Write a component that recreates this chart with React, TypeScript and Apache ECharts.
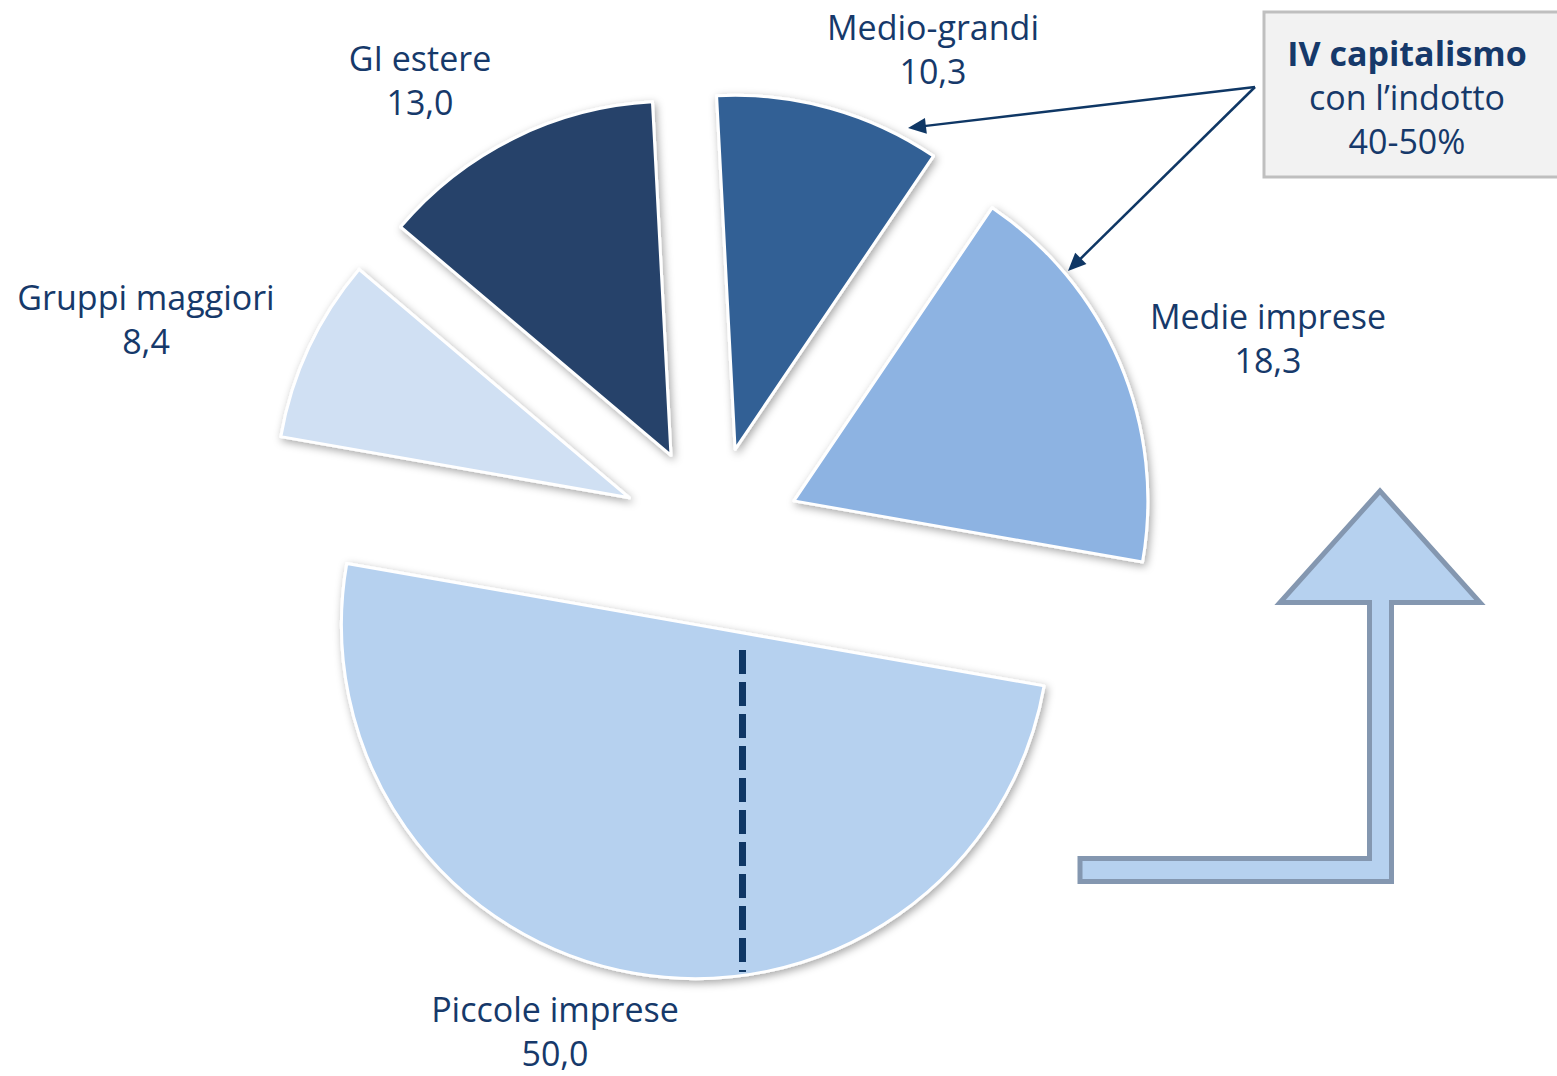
import React, { useEffect, useRef } from 'react';
import * as echarts from 'echarts';

// ---- data ----
const categories = ['Medio-grandi', 'Medie imprese', 'Piccole imprese', 'Gruppi maggiori', 'GI estere'];
const values = [10.3, 18.3, 50.0, 8.4, 13.0];
const sliceColors = ['#336195', '#8DB3E2', '#B6D1EF', '#D0E0F3', '#25436B'];
const calloutLines = ['IV capitalismo', 'con l\u2019indotto', '40-50%'];

// ---- layout ----
const W = 1557;
const H = 1076;
const CENTER: [number, number] = [711, 536];
const RADIUS = 354;
const EXPLODE = 90;
const START_ANGLE = 93;
const LABEL_POS: [number, number][] = [
  [933, 49],
  [1268, 338],
  [555, 1031],
  [146, 319],
  [420, 80],
];
const TEXT = '#16396A';
const NAVY = '#0F3765';
const FONT = "'Open Sans', 'DejaVu Sans', sans-serif";

const ARROW_FROM: [number, number] = [1255, 87];
const ARROW_TIPS: [number, number][] = [
  [908, 128],
  [1068, 271],
];

function arrowHead(from: [number, number], to: [number, number], len: number, half: number) {
  const dx = to[0] - from[0];
  const dy = to[1] - from[1];
  const L = Math.hypot(dx, dy);
  const ux = dx / L;
  const uy = dy / L;
  const bx = to[0] - ux * len;
  const by = to[1] - uy * len;
  return {
    base: [bx + ux * 2, by + uy * 2],
    points: [
      [to[0], to[1]],
      [bx - uy * half, by + ux * half],
      [bx + uy * half, by - ux * half],
    ],
  };
}

const fmt = (v: number) => v.toFixed(1).replace('.', ',');

export default function App() {
  const ref = useRef<HTMLDivElement>(null);

  useEffect(() => {
    if (!ref.current) return;
    const chart = echarts.init(ref.current, undefined, { renderer: 'svg' });

    const arrowEls: any[] = [];
    ARROW_TIPS.forEach((tip) => {
      const h = arrowHead(ARROW_FROM, tip, 18, 8);
      arrowEls.push({
        type: 'line',
        z: 100,
        shape: { x1: ARROW_FROM[0], y1: ARROW_FROM[1], x2: h.base[0], y2: h.base[1] },
        style: { stroke: NAVY, lineWidth: 2.5 },
      });
      arrowEls.push({
        type: 'polygon',
        z: 100,
        shape: { points: h.points },
        style: { fill: NAVY },
      });
    });

    const labelEls: any[] = categories.map((name, i) => ({
      type: 'text',
      z: 101,
      x: LABEL_POS[i][0],
      y: LABEL_POS[i][1],
      style: {
        text: `${name}\n${fmt(values[i])}`,
        align: 'center',
        verticalAlign: 'middle',
        fill: TEXT,
        fontFamily: FONT,
        fontSize: 34,
        lineHeight: 44,
      },
    }));

    const option: any = {
      animation: false,
      backgroundColor: '#ffffff',
      series: [
        {
          type: 'pie',
          center: CENTER,
          radius: RADIUS,
          startAngle: START_ANGLE,
          clockwise: true,
          selectedMode: 'multiple',
          selectedOffset: EXPLODE,
          avoidLabelOverlap: false,
          emphasis: { disabled: true },
          itemStyle: {
            borderColor: '#ffffff',
            borderWidth: 3,
            shadowBlur: 8,
            shadowColor: 'rgba(0,0,0,0.35)',
            shadowOffsetX: 2,
            shadowOffsetY: 3,
          },
          select: {
            itemStyle: {
              borderColor: '#ffffff',
              borderWidth: 3,
            },
          },
          label: { show: false },
          labelLine: { show: false },
          data: categories.map((name, i) => ({
            name,
            value: values[i],
            selected: true,
            itemStyle: { color: sliceColors[i] },
            select: { itemStyle: { color: sliceColors[i] } },
          })),
        },
      ],
      graphic: [
        // callout box
        {
          type: 'rect',
          z: 100,
          shape: { x: 1264, y: 12, width: 300, height: 165 },
          style: { fill: '#F2F2F2', stroke: '#BFBFBF', lineWidth: 3 },
        },
        {
          type: 'text',
          z: 101,
          x: 1407,
          y: 97,
          style: {
            text: `{b|${calloutLines[0]}}\n{n|${calloutLines[1]}}\n{n|${calloutLines[2]}}`,
            align: 'center',
            verticalAlign: 'middle',
            fill: TEXT,
            rich: {
              b: { fontFamily: FONT, fontSize: 34, fontWeight: 'bold', lineHeight: 44, fill: TEXT, color: TEXT },
              n: { fontFamily: FONT, fontSize: 34, lineHeight: 44, fill: TEXT, color: TEXT },
            },
          },
        },
        ...labelEls,
        ...arrowEls,
        // dashed line inside the small-business slice
        {
          type: 'line',
          z: 100,
          shape: { x1: 742.5, y1: 650, x2: 742.5, y2: 972 },
          style: { stroke: NAVY, lineWidth: 7, lineDash: [24, 8] },
        },
        // bent up-arrow
        {
          type: 'polygon',
          z: 100,
          shape: {
            points: [
              [1080, 858.5],
              [1369.5, 858.5],
              [1369.5, 602.5],
              [1280, 602.5],
              [1380, 491],
              [1480, 602.5],
              [1391.5, 602.5],
              [1391.5, 881.5],
              [1080, 881.5],
            ],
          },
          style: { fill: '#B6D1EF', stroke: '#8497B0', lineWidth: 5, lineJoin: 'miter' },
        },
      ],
    };

    chart.setOption(option);
    return () => chart.dispose();
  }, []);

  return (
    <div
      ref={ref}
      style={{ position: 'absolute', left: 0, top: 0, width: W, height: H }}
    />
  );
}
